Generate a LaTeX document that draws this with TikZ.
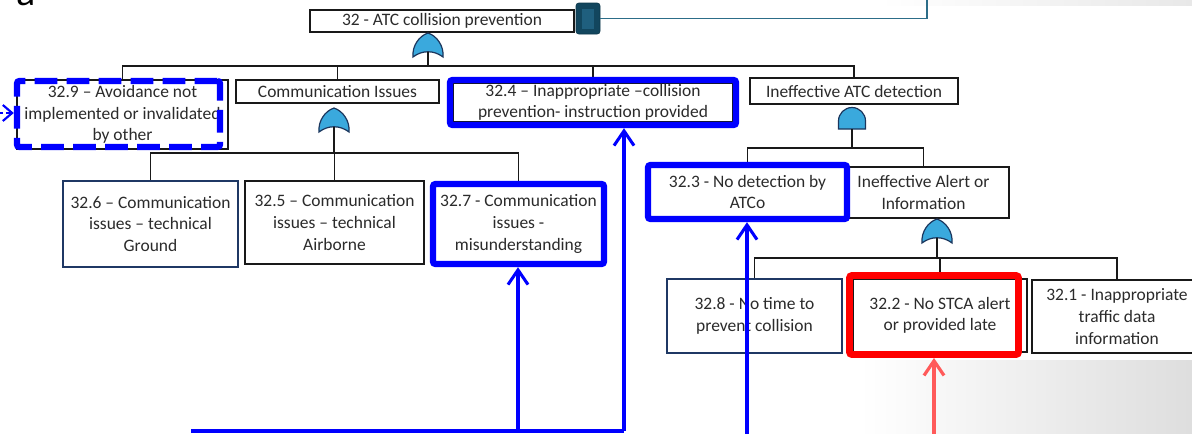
\documentclass[tikz,border=0pt]{standalone}
\usepackage{fontspec}
\setmainfont{Carlito}
\usetikzlibrary{arrows.meta}

\definecolor{hlblue}{HTML}{0000FF}
\definecolor{hlredc}{HTML}{FF0000}
\definecolor{arrred}{HTML}{FF5A5A}
\definecolor{gatefill}{HTML}{3AA9DD}
\definecolor{gateline}{HTML}{1B365D}
\definecolor{navy}{HTML}{1F3864}
\definecolor{ink}{HTML}{2B2B2B}
\definecolor{tealdark}{HTML}{12465E}
\definecolor{teallight}{HTML}{1F5F7E}
\definecolor{tealline}{HTML}{2C6D88}

\tikzset{
  sz/.style 2 args={minimum width=#1*0.75pt, minimum height=#2*0.75pt},
  box/.style={draw=black!90, line width=1.1pt, fill=white, inner sep=0pt,
    align=center, text=ink, font=\fontsize{13.1}{16.2}\selectfont},
  navybox/.style={box, draw=navy},
  conn/.style={draw=black!90, line width=1.1pt},
  gate/.style={fill=gatefill, draw=gateline, line width=0.9pt},
  orgate/.pic={
    \path[gate] (-15,0) .. controls (-16,-11) and (-9,-21) .. (0,-24)
      .. controls (9,-21) and (16,-11) .. (15,0)
      .. controls (6,-7) and (-6,-7) .. cycle;
    \coordinate (-out) at (0,-5);
  },
  andgate/.pic={
    \path[gate] (-13.5,0) -- (-13.5,-8)
      arc[start angle=180, end angle=360, radius=13.5] -- (13.5,0) -- cycle;
    \coordinate (-out) at (0,0);
  },
  hlframe/.style={draw=hlblue, line width=4.8pt, rounded corners=2pt, inner sep=0pt},
  hldashframe/.style={hlframe, dash pattern=on 17pt off 7pt},
  redframe/.style={draw=hlredc, line width=5.2pt, rounded corners=2pt, inner sep=0pt},
  hl/.style={draw=hlblue, line width=2.3pt},
  hlarrow/.style={hl, -{Straight Barb[length=11pt,width=15pt]}},
  redarrow/.style={draw=arrred, line width=2.4pt, -{Straight Barb[length=11pt,width=15pt]}},
}

\begin{document}
\begin{tikzpicture}[x=0.75pt, y=-0.75pt]
\useasboundingbox (0,0) rectangle (1192,433);
\clip (0,0) rectangle (1192,433);

% slide background pieces
\shade[left color=white, right color=black!9] (880,0) rectangle (1192,5);
\shade[left color=white, right color=black!13] (860,360) rectangle (1192,433);

% panel tag
\node[anchor=base west, inner sep=0pt, font=\fontsize{30}{30}\selectfont, text=black] (tag) at (16,5) {a};

% link block and its line
\node[draw=tealdark!80!black, fill=tealdark, rounded corners=2pt, sz={24}{31}, inner sep=0pt] (link) at (588,18.5) {};
\node[fill=teallight, sz={12}{20}, inner sep=0pt] (linkin) at (588,18.5) {};
\coordinate (linkend) at (927,0);
\draw[draw=tealline, line width=1.2pt] (link.east) -| (linkend);

% event boxes
\node[box, sz={264}{22}] (top) at (442,21) {32 - ATC collision prevention};

\node[box, sz={211}{69}] (n329) at (122.5,114.5) {32.9 – Avoidance not\\implemented or invalidated\\by other};
\node[box, sz={203}{23}] (comm) at (337.5,91.5) {Communication Issues};
\node[box, sz={280}{39}] (n324) at (593,102.5) {32.4 – Inappropriate –collision\\prevention- instruction provided};
\node[box, sz={208}{26}] (det) at (854,91) {Ineffective ATC detection};

\node[navybox, sz={175}{86}] (n326) at (150.5,224) {32.6 – Communication\\issues – technical\\Ground};
\node[box, sz={179}{83}] (n325) at (334.5,222.5) {32.5 – Communication\\issues – technical\\Airborne};
\node[box, sz={170}{79}] (n327) at (518.5,224) {32.7 - Communication\\issues -\\misunderstanding};

\node[box, sz={171}{51}] (alert) at (923.5,192.5) {Ineffective Alert or\\Information};
\node[box, sz={199}{54}] (n323) at (747.5,192) {32.3 - No detection by\\ATCo};

\node[navybox, sz={175}{74}] (n328) at (754.5,316) {32.8 - No time to\\prevent collision};
\node[box, sz={174}{73}] (n322) at (940,315.5) {32.2 - No STCA alert\\or provided late};
\node[box, sz={170}{73}] (n321) at (1117,316.5) {32.1 - Inappropriate\\traffic data\\information};

% gates
\pic (g1) at (428,57) {orgate};
\pic (g2) at (334,132) {orgate};
\pic (g3) at (852,129) {andgate};
\pic (g4) at (937,243) {orgate};

% tree connectors
\coordinate (bus1) at (428,66);
\draw[conn] (g1-out) -- (bus1);
\draw[conn] (bus1) -| (n329.north);
\draw[conn] (bus1) -| (comm.north);
\draw[conn] (bus1) -| (n324.north);
\draw[conn] (bus1) -| (det.north);

\coordinate (bus2) at (334,153);
\draw[conn] (g2-out) -- (bus2);
\draw[conn] (bus2) -| (n326.north);
\draw[conn] (bus2) -| (n325.north);
\draw[conn] (bus2) -| (n327.north);

\coordinate (bus3) at (852,148);
\draw[conn] (g3-out) -- (bus3);
\draw[conn] (bus3) -| (n323.north);
\draw[conn] (bus3) -| (alert.north);

\coordinate (bus4) at (937,258);
\draw[conn] (g4-out) -- (bus4);
\draw[conn] (bus4) -| (n328.north);
\draw[conn] (bus4) -| (n322.north);
\draw[conn] (bus4) -| (n321.north);

% highlight frames
\node[hldashframe, sz={203}{66}] (f329) at (118.5,114) {};
\node[hlframe, sz={286}{45}] (f324) at (593,102.5) {};
\node[hlframe, sz={171}{80}] (f327) at (518.5,224) {};
\node[hlframe, sz={199}{54}] (f323) at (747.5,192) {};
\node[redframe, sz={169}{79}] (f322) at (934,315) {};

% highlight arrows
\coordinate (s1) at (191,431);
\coordinate (s2) at (624,431);
\coordinate (s3) at (518,431);
\coordinate (s4) at (747,434);
\coordinate (s5) at (934,434);
\coordinate (s6) at (-2,113);
\draw[hl] (s1) -- (s2);
\draw[hlarrow] (s2) -- (s2 |- f324.south);
\draw[hlarrow] (s3) -- (s3 |- f327.south);
\draw[hlarrow] (s4) -- (s4 |- f323.south);
\draw[redarrow] (s5) -- (s5 |- f322.south);
\draw[draw=hlblue, line width=1.6pt, dash pattern=on 4pt off 2pt,
      -{Straight Barb[length=7pt,width=12pt]}] (s6) -- (s6 -| f329.west);
\end{tikzpicture}
\end{document}
